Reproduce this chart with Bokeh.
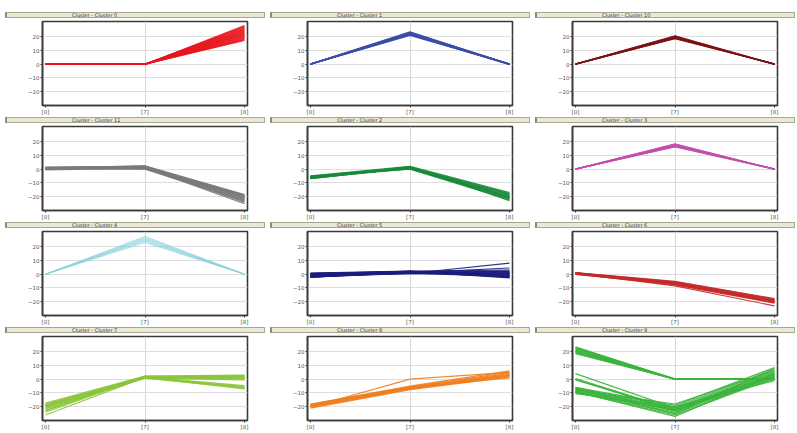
from bokeh.plotting import figure
from bokeh.layouts import column, row
from bokeh.models import Div, FixedTicker, Range1d, Spacer
from bokeh.embed import file_html
from bokeh.resources import INLINE

# ---- data -------------------------------------------------------------
x_positions = [0, 1, 2]
x_tick_labels = ["[0]", "[7]", "[8]"]
y_ticks = [-20, -10, 0, 10, 20]

cluster_names = ["Cluster - Cluster 0", "Cluster - Cluster 1", "Cluster - Cluster 10",
                 "Cluster - Cluster 11", "Cluster - Cluster 2", "Cluster - Cluster 3",
                 "Cluster - Cluster 4", "Cluster - Cluster 5", "Cluster - Cluster 6",
                 "Cluster - Cluster 7", "Cluster - Cluster 8", "Cluster - Cluster 9"]

cluster_colors = ["#e8161e", "#3b4ea6", "#7c1214",
                  "#7a7a7a", "#1a8a3a", "#c24fae",
                  "#86d0dc", "#1c1d7c", "#c42a2a",
                  "#8cc43c", "#f07d1e", "#3cb43c"]

cluster0 = [[0, 0, 28], [0, 0, 27.4], [0, 0, 26.8], [0, 0, 26.1], [0, 0, 25.5], [0, 0, 24.8],
            [0, 0, 24.2], [0, 0, 23.5], [0, 0, 22.9], [0, 0, 22.2], [0, 0, 21.6], [0, 0, 20.9],
            [0, 0, 20.3], [0, 0, 19.6], [0, 0, 19], [0, 0, 18.4], [0, 0, 17.8], [0, 0, 17.2]]
cluster1 = [[0, 23.5, 0], [0, 23.1, 0], [0, 22.8, 0], [0, 22.4, -0.2], [0, 22.1, 0], [0, 21.8, 0],
            [0, 21.5, -0.3], [0, 21.2, 0], [0, 20.9, 0.2], [0, 22.6, 0], [0, 21.6, 0]]
cluster10 = [[0, 20.6, 0], [0, 20.2, 0], [0, 19.9, 0], [0, 19.6, -0.2], [0, 19.3, 0],
             [0, 19, 0], [0, 18.7, 0.2], [0, 18.5, 0]]
cluster11 = [[1, 2.5, -18.5], [0.5, 2, -19], [1.5, 1.8, -19.5], [0, 1.5, -20], [1, 1.2, -20.5],
             [0.5, 1, -21], [-0.5, 0.8, -21.5], [1.2, 0.5, -22], [0.3, 0.3, -22.5], [0.8, 0, -23],
             [1, 2.2, -23.5], [0, 1.4, -24], [0.6, 0.9, -25], [1.4, 2, -20.2], [0.2, 1.7, -18.8]]
cluster2 = [[-4.8, 2, -17], [-5.2, 1.6, -17.8], [-5.5, 1.2, -18.5], [-5.8, 0.8, -19.2],
            [-6, 0.5, -19.8], [-6.3, 0.2, -20.5], [-6.6, 1.4, -21], [-6.9, 0.9, -21.6],
            [-5.1, 0, -22.2], [-6.2, 1.8, -22.8], [-5.6, 0.4, -20.1], [-6.8, 1.1, -18.2]]
cluster3 = [[0, 18.5, 0], [0, 18.1, 0], [0, 17.8, 0], [0, 17.4, -0.2], [0, 17.1, 0],
            [0, 16.8, 0], [0, 16.5, 0.2], [0, 16.2, 0]]
cluster4 = [[0, 27.4, 0], [0, 26.5, 0], [0, 25.6, 0], [0, 24.8, 0], [0, 24, 0], [0, 23, 0]]
cluster5 = [[-2, 0.5, 8], [-1.5, 1, 4.5], [0.7, 2.3, 3], [-2.3, 1.8, 1.8], [0, 0.4, 1.2],
            [-1, 1.2, 0.6], [0.5, 2, 0], [-1.8, 0.8, -0.5], [-0.5, 1.6, -1], [0.2, 0.6, -1.5],
            [-1.2, 1.4, -2], [-2.1, 2.1, -2.7], [-0.8, 0.9, 0.3], [0.4, 1.5, -0.8],
            [-1.6, 0.7, 2.2], [-0.3, 2.2, -2.3], [-2.2, 1.1, 1], [0.6, 1.9, -1.8]]
cluster6 = [[1.2, -5.2, -17.7], [1, -5.6, -18.2], [0.8, -6, -18.6], [0.6, -6.3, -19],
            [0.4, -6.6, -19.4], [0.2, -6.9, -19.8], [0, -7.2, -20.2], [-0.2, -7.5, -20.6],
            [1.1, -7.8, -21], [0.5, -8.5, -23], [0.9, -6.2, -19.6]]
cluster7 = [[-17.3, 2.3, 3], [-18, 2, 2.2], [-18.8, 1.6, 1.5], [-19.5, 1.2, 0.8],
            [-20.2, 0.9, 0.2], [-21, 0.7, -0.5], [-22.5, 1.4, 2.6], [-24, 1.8, 1],
            [-18.4, 1.5, -4.7], [-19.2, 1.1, -5.4], [-20, 1.9, -6], [-21.5, 0.8, -6.5],
            [-26, 1.3, -7], [-23, 2.1, 1.8]]
cluster8 = [[-18, -5, 6], [-18.5, -5.5, 5], [-19, -6, 4.2], [-19.5, -6.4, 3.5],
            [-20, -6.8, 2.8], [-20.5, -7.2, 2.2], [-21, -7.6, 1.6], [-19.2, -6.2, 1],
            [-18.8, -5.8, 3], [-20.2, 0, 5]]
cluster9 = [[23.5, 0, 0], [23, 0, 0], [22.5, 0, 0], [22, 0, 0], [21.5, 0, 0], [21, 0, 0],
            [20.5, 0, 0], [20, 0, 0], [19.5, 0, 0], [19, 0, 0], [18.5, 0, 0],
            [4, -21, 3], [0.5, -22, 5], [0, -23, 4], [-0.5, -22.5, 2],
            [-6, -19, 8.5], [-6.5, -20, 7], [-7, -21, 6], [-7.5, -22, 5], [-8, -23, 4],
            [-8.5, -24, 3], [-9, -25, 2], [-9.5, -26, 1], [-10, -22, 0], [-10.5, -20, -1],
            [-7, -25, 8], [-8, -18, 6.5], [-9, -27, 3.5], [-6, -23, 1.5]]

cluster_profiles = [cluster0, cluster1, cluster10, cluster11, cluster2, cluster3,
                    cluster4, cluster5, cluster6, cluster7, cluster8, cluster9]

# line style per panel (styling only)
panel_line_widths = [1.2, 1.2, 1.2, 1.2, 1.2, 1.2, 0.8, 1.2, 1.2, 1.2, 1.2, 1.2]

# ---- build ------------------------------------------------------------
CELL_W = 265


def make_panel(name, color, profiles, lw):
    bar = Div(text=name, width=CELL_W - 5, height=6, margin=(0, 0, 0, 5),
              styles={"background-color": "#ebe8d5", "border": "1px solid #a9a58f",
                      "border-left": "2px solid #8d8a78",
                      "font-size": "5px", "line-height": "4px", "padding-left": "65px",
                      "color": "#333333", "box-sizing": "border-box",
                      "font-family": "DejaVu Sans", "overflow": "hidden"})
    p = figure(width=CELL_W, height=99, output_backend="svg", toolbar_location=None,
               x_range=Range1d(-0.03, 2.03), y_range=Range1d(-30, 31),
               min_border_left=42, min_border_right=18, min_border_top=3, min_border_bottom=10)
    p.multi_line(xs=[x_positions] * len(profiles), ys=profiles,
                 line_color=color, line_width=lw, line_alpha=0.9)
    p.outline_line_color = "#3a3a3a"
    p.outline_line_width = 1.6
    p.background_fill_color = "white"
    p.border_fill_color = "white"
    p.xaxis.ticker = FixedTicker(ticks=x_positions)
    p.xaxis.major_label_overrides = {i: lab for i, lab in zip(x_positions, x_tick_labels)}
    p.yaxis.ticker = FixedTicker(ticks=y_ticks)
    for ax in (p.xaxis, p.yaxis):
        ax.major_label_text_font_size = "5.5px"
        ax.major_label_text_color = "#555555"
        ax.major_label_text_font = "DejaVu Sans"
        ax.axis_line_color = "#3a3a3a"
        ax.axis_line_width = 1.6
        ax.major_tick_line_color = "#3a3a3a"
        ax.major_tick_out = 2
        ax.major_tick_in = 0
        ax.minor_tick_line_color = None
        ax.major_label_standoff = 1
    p.xgrid.ticker = FixedTicker(ticks=[1])
    p.xgrid.grid_line_color = "#d6d6d6"
    p.ygrid.grid_line_color = "#dedede"
    return column(bar, p, spacing=0)


cells = [make_panel(n, c, pr, lw) for n, c, pr, lw in
         zip(cluster_names, cluster_colors, cluster_profiles, panel_line_widths)]
rows = [row(*cells[i:i + 3], spacing=0) for i in range(0, 12, 3)]
layout = column(Spacer(width=3 * CELL_W, height=12), *rows, spacing=0)

open("out.html", "w").write(file_html(layout, INLINE))
